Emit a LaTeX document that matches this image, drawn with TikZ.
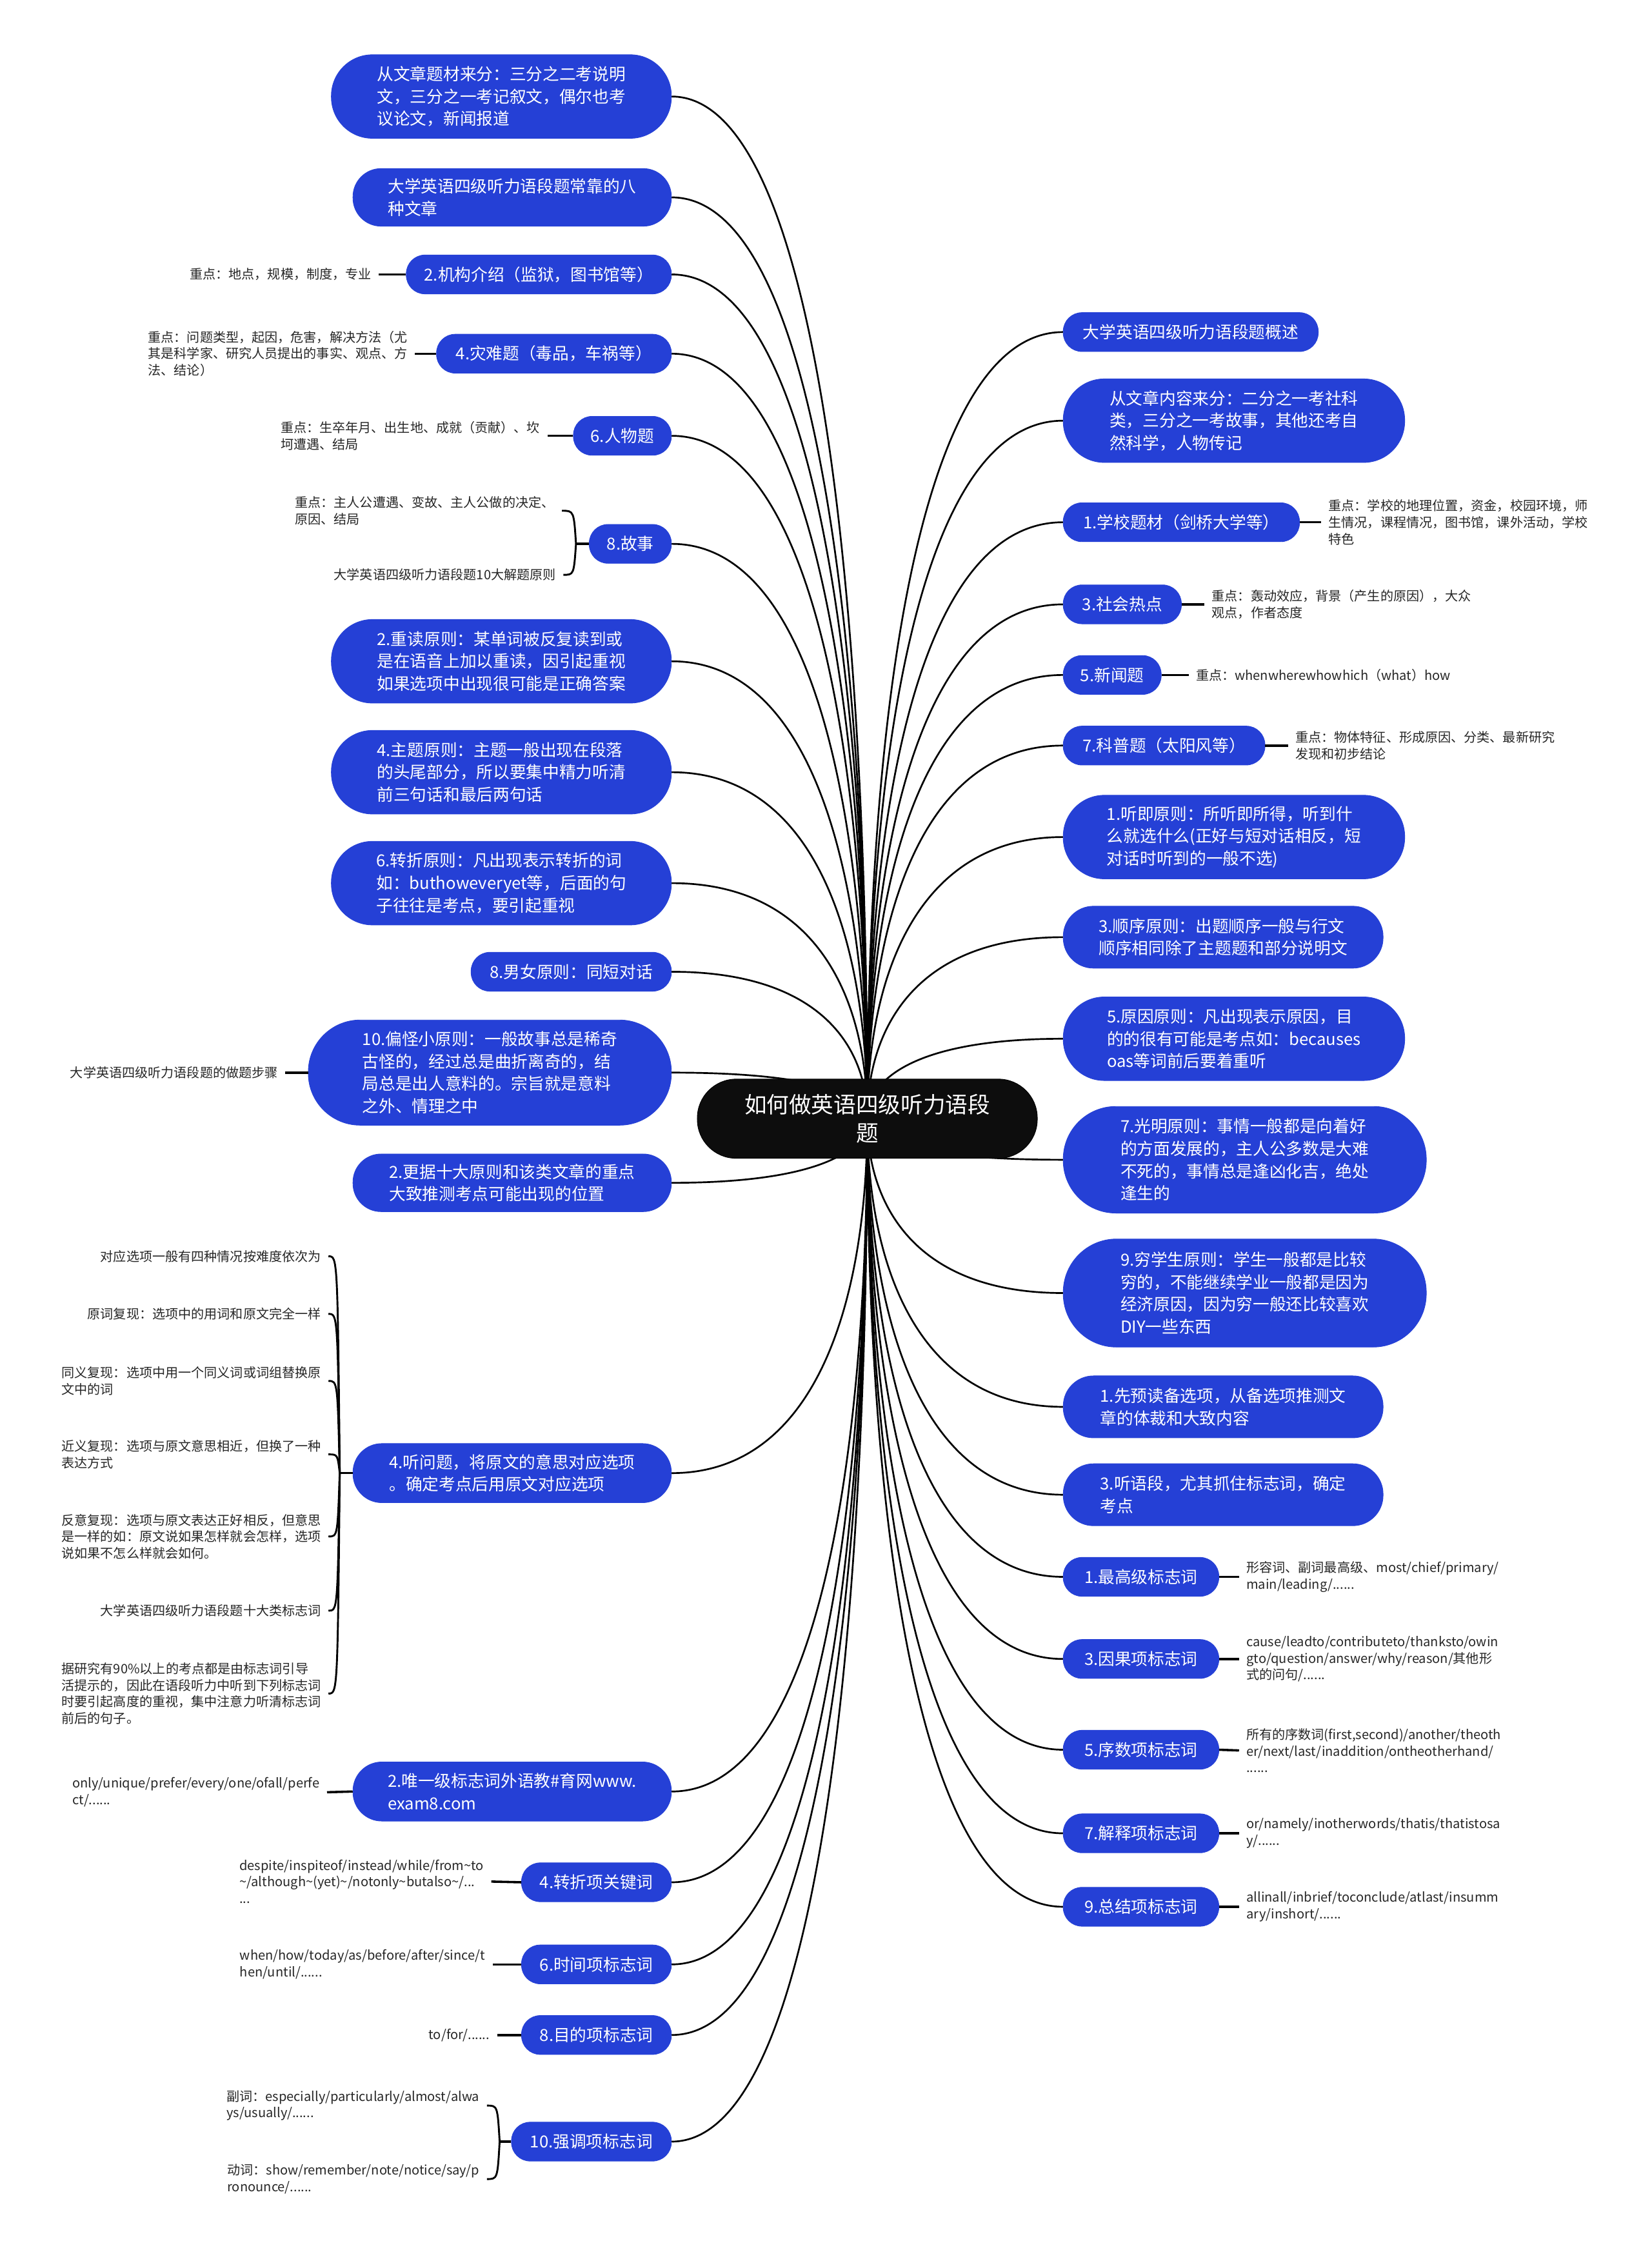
\documentclass[tikz,border=0pt]{standalone}
\usepackage{fontspec}
\setmainfont{Noto Sans CJK SC}
\usetikzlibrary{calc}
\newcommand\mytld{\textasciitilde}
\definecolor{nb}{RGB}{37,64,214}
\pgfdeclarelayer{bg}
\pgfsetlayers{bg,main}
\tikzset{
  bn/.style={fill=nb, draw=nb, text=white, inner sep=0pt, align=left,
    font=\fontsize{11.5}{15.5}\selectfont},
  rootbox/.style={fill=black!95, draw=black, text=white, inner sep=0pt, align=center,
    minimum width=236pt, minimum height=55pt, rounded corners=27pt,
    font=\fontsize{15.5}{20}\selectfont},
  lf/.style={inner xsep=5pt, inner ysep=1pt, align=left, text=black!85,
    font=\fontsize{9}{11.5}\selectfont},
  lfl/.style={lf, anchor=east},
  lfr/.style={lf, anchor=west},
  conn/.style={line width=1.2pt, to path={let \p1=(\tikztostart), \p2=(\tikztotarget) in
    .. controls (\x1,{0.5*(\y1+\y2)}) and ({\x2+0.75*(\x1-\x2)},\y2) .. (\tikztotarget)}},
  stub/.style={line width=1.6pt},
  brc/.style={line width=1.3pt, to path={let \p1=(\tikztostart), \p2=(\tikztotarget) in
    .. controls ({\x1-1.5pt},\y2) .. (\tikztotarget)}},
}
\begin{document}
\begin{tikzpicture}[x=1pt,y=-1pt]
\useasboundingbox (0,0) rectangle (1146.3,1568);
% root
\node[rootbox] (root) at (602,776.5) {如何做英语四级听力语段\\题};
% left main nodes
\node[bn, minimum width=236pt, minimum height=58pt, rounded corners=28.5pt] (L1) at (348,67) {从文章题材来分：三分之二考说明\\文，三分之一考记叙文，偶尔也考\\议论文，新闻报道};
\node[bn, minimum width=221pt, minimum height=40pt, rounded corners=19.5pt] (L2) at (355.5,137) {大学英语四级听力语段题常靠的八\\种文章};
\node[bn, minimum width=184pt, minimum height=27pt, rounded corners=13pt] (L3) at (374,190.5) {2.机构介绍（监狱，图书馆等）};
\node[bn, minimum width=163pt, minimum height=27pt, rounded corners=13pt] (L4) at (384.5,245.5) {4.灾难题（毒品，车祸等）};
\node[bn, minimum width=68pt, minimum height=27pt, rounded corners=13pt] (L5) at (432,302.5) {6.人物题};
\node[bn, minimum width=57pt, minimum height=27pt, rounded corners=13pt] (L6) at (437.5,377.5) {8.故事};
\node[bn, minimum width=236pt, minimum height=58pt, rounded corners=28.5pt] (L7) at (348,459) {2.重读原则：某单词被反复读到或\\是在语音上加以重读，因引起重视\\如果选项中出现很可能是正确答案};
\node[bn, minimum width=236pt, minimum height=58pt, rounded corners=28.5pt] (L8) at (348,536) {4.主题原则：主题一般出现在段落\\的头尾部分，所以要集中精力听清\\前三句话和最后两句话};
\node[bn, minimum width=236pt, minimum height=58pt, rounded corners=28.5pt] (L9) at (348,613) {6.转折原则：凡出现表示转折的词\\如：buthoweveryet等，后面的句\\子往往是考点，要引起重视};
\node[bn, minimum width=139pt, minimum height=27pt, rounded corners=13pt] (L10) at (396.5,674.5) {8.男女原则：同短对话};
\node[bn, minimum width=252pt, minimum height=73pt, rounded corners=36pt] (L11) at (340,744.5) {10.偏怪小原则：一般故事总是稀奇\\古怪的，经过总是曲折离奇的，结\\局总是出人意料的。宗旨就是意料\\之外、情理之中};
\node[bn, minimum width=221pt, minimum height=40pt, rounded corners=19.5pt] (L12) at (355.5,821) {2.更据十大原则和该类文章的重点\\大致推测考点可能出现的位置};
\node[bn, minimum width=221pt, minimum height=41pt, rounded corners=20pt] (L13) at (355.5,1022.5) {4.听问题，将原文的意思对应选项\\。确定考点后用原文对应选项};
\node[bn, minimum width=221pt, minimum height=41pt, rounded corners=20pt] (L14) at (355.5,1243.5) {2.唯一级标志词外语教\#育网www.\\exam8.com};
\node[bn, minimum width=104pt, minimum height=27pt, rounded corners=13pt] (L15) at (414,1306.5) {4.转折项关键词};
\node[bn, minimum width=104pt, minimum height=27pt, rounded corners=13pt] (L16) at (414,1363.5) {6.时间项标志词};
\node[bn, minimum width=104pt, minimum height=27pt, rounded corners=13pt] (L17) at (414,1412.5) {8.目的项标志词};
\node[bn, minimum width=111pt, minimum height=27pt, rounded corners=13pt] (L18) at (410.5,1486.5) {10.强调项标志词};
% right main nodes
\node[bn, minimum width=177pt, minimum height=27pt, rounded corners=13pt] (R1) at (826.5,230.5) {大学英语四级听力语段题概述};
\node[bn, minimum width=237pt, minimum height=58pt, rounded corners=28.5pt] (R2) at (856.5,292) {从文章内容来分：二分之一考社科\\类，三分之一考故事，其他还考自\\然科学，人物传记};
\node[bn, minimum width=164pt, minimum height=27pt, rounded corners=13pt] (R3) at (820,362.5) {1.学校题材（剑桥大学等）};
\node[bn, minimum width=82pt, minimum height=27pt, rounded corners=13pt] (R4) at (779,419.5) {3.社会热点};
\node[bn, minimum width=68pt, minimum height=27pt, rounded corners=13pt] (R5) at (772,468.5) {5.新闻题};
\node[bn, minimum width=140pt, minimum height=27pt, rounded corners=13pt] (R6) at (808,517.5) {7.科普题（太阳风等）};
\node[bn, minimum width=237pt, minimum height=58pt, rounded corners=28.5pt] (R7) at (856.5,581) {1.听即原则：所听即所得，听到什\\么就选什么(正好与短对话相反，短\\对话时听到的一般不选)};
\node[bn, minimum width=222pt, minimum height=43pt, rounded corners=21pt] (R8) at (849,650.5) {3.顺序原则：出题顺序一般与行文\\顺序相同除了主题题和部分说明文};
\node[bn, minimum width=237pt, minimum height=58pt, rounded corners=28.5pt] (R9) at (856.5,721) {5.原因原则：凡出现表示原因，目\\的的很有可能是考点如：becauses\\oas等词前后要着重听};
\node[bn, minimum width=252pt, minimum height=74pt, rounded corners=36.5pt] (R10) at (864,805) {7.光明原则：事情一般都是向着好\\的方面发展的，主人公多数是大难\\不死的，事情总是逢凶化吉，绝处\\逢生的};
\node[bn, minimum width=252pt, minimum height=75pt, rounded corners=37pt] (R11) at (864,897.5) {9.穷学生原则：学生一般都是比较\\穷的，不能继续学业一般都是因为\\经济原因，因为穷一般还比较喜欢\\DIY一些东西};
\node[bn, minimum width=222pt, minimum height=43pt, rounded corners=21pt] (R12) at (849,976.5) {1.先预读备选项，从备选项推测文\\章的体裁和大致内容};
\node[bn, minimum width=222pt, minimum height=43pt, rounded corners=21pt] (R13) at (849,1037.5) {3.听语段，尤其抓住标志词，确定\\考点};
\node[bn, minimum width=108pt, minimum height=27pt, rounded corners=13pt] (R14) at (792,1094.5) {1.最高级标志词};
\node[bn, minimum width=108pt, minimum height=27pt, rounded corners=13pt] (R15) at (792,1151.5) {3.因果项标志词};
\node[bn, minimum width=108pt, minimum height=27pt, rounded corners=13pt] (R16) at (792,1214.5) {5.序数项标志词};
\node[bn, minimum width=108pt, minimum height=27pt, rounded corners=13pt] (R17) at (792,1272.5) {7.解释项标志词};
\node[bn, minimum width=108pt, minimum height=27pt, rounded corners=13pt] (R18) at (792,1323.5) {9.总结项标志词};
% left leaves
\node[lfl] (LL3) at (263,190.5) {重点：地点，规模，制度，专业};
\node[lfl] (LL4) at (288,245.5) {重点：问题类型，起因，危害，解决方法（尤\\其是科学家、研究人员提出的事实、观点、方\\法、结论）};
\node[lfl] (LL5) at (380,302.5) {重点：生卒年月、出生地、成就（贡献）、坎\\坷遭遇、结局};
\node[lfl] (LL6a) at (390,354.5) {重点：主人公遭遇、变故、主人公做的决定、\\原因、结局};
\node[lfl] (LL6b) at (391,399) {大学英语四级听力语段题10大解题原则};
\node[lfl] (LL11) at (198,744.5) {大学英语四级听力语段题的做题步骤};
\node[lfl] (LL13a) at (228,872) {对应选项一般有四种情况按难度依次为};
\node[lfl] (LL13b) at (228,912) {原词复现：选项中的用词和原文完全一样};
\node[lfl] (LL13c) at (228,958.5) {同义复现：选项中用一个同义词或词组替换原\\文中的词};
\node[lfl] (LL13d) at (228,1009.5) {近义复现：选项与原文意思相近，但换了一种\\表达方式};
\node[lfl] (LL13e) at (228,1066.5) {反意复现：选项与原文表达正好相反，但意思\\是一样的如：原文说如果怎样就会怎样，选项\\说如果不怎么样就会如何。};
\node[lfl] (LL13f) at (228,1118) {大学英语四级听力语段题十大类标志词};
\node[lfl] (LL13g) at (228,1175.5) {据研究有90\%以上的考点都是由标志词引导\\活提示的，因此在语段听力中听到下列标志词\\时要引起高度的重视，集中注意力听清标志词\\前后的句子。};
\node[lfl] (LL14) at (227,1244) {only/unique/prefer/every/one/ofall/perfe\\ct/......};
\node[lfl] (LL15) at (341,1306) {despite/inspiteof/instead/while/from\mytld to\\\mytld/although\mytld(yet)\mytld/notonly\mytld butalso\mytld/...\\...};
\node[lfl] (LL16) at (342,1363.5) {when/how/today/as/before/after/since/t\\hen/until/......};
\node[lfl] (LL17) at (345,1412.5) {to/for/......};
\node[lfl] (LL18a) at (338,1461.5) {副词：especially/particularly/almost/alwa\\ys/usually/......};
\node[lfl] (LL18b) at (338,1512.5) {动词：show/remember/note/notice/say/p\\ronounce/......};
% right leaves
\node[lfr] (RL3) at (917,362.5) {重点：学校的地理位置，资金，校园环境，师\\生情况，课程情况，图书馆，课外活动，学校\\特色};
\node[lfr] (RL4) at (836,419.5) {重点：轰动效应，背景（产生的原因），大众\\观点，作者态度};
\node[lfr] (RL5) at (825,468.5) {重点：whenwherewhowhich（what）how};
\node[lfr] (RL6) at (894,517.5) {重点：物体特征、形成原因、分类、最新研究\\发现和初步结论};
\node[lfr] (RL14) at (860,1094.5) {形容词、副词最高级、most/chief/primary/\\main/leading/......};
\node[lfr] (RL15) at (860,1151.5) {cause/leadto/contributeto/thanksto/owin\\gto/question/answer/why/reason/其他形\\式的问句/......};
\node[lfr] (RL16) at (860,1215) {所有的序数词(first,second)/another/theoth\\er/next/last/inaddition/ontheotherhand/\\......};
\node[lfr] (RL17) at (860,1272.5) {or/namely/inotherwords/thatis/thatistosa\\y/......};
\node[lfr] (RL18) at (860,1323.5) {allinall/inbrief/toconclude/atlast/insumm\\ary/inshort/......};
% junctions
\coordinate (j6) at ([xshift=-9pt]L6.west);
\coordinate (j13) at ([xshift=-9pt]L13.west);
\coordinate (j18) at ([xshift=-8pt]L18.west);
\begin{pgfonlayer}{bg}
\fill[white] (0,0) rectangle (1146.3,1568);
\foreach \k in {L1,L2,L3,L4,L5,L6,L7,L8,L9,L10,L11,L12,L13,L14,L15,L16,L17,L18}
  \draw[conn] (root.center) to (\k.east);
\foreach \k in {R1,R2,R3,R4,R5,R6,R7,R8,R9,R10,R11,R12,R13,R14,R15,R16,R17,R18}
  \draw[conn] (root.center) to (\k.west);
\end{pgfonlayer}
% stubs to leaves
\draw[stub] (L3.west) -- (LL3.east);
\draw[stub] (L4.west) -- (LL4.east);
\draw[stub] (L5.west) -- (LL5.east);
\draw[stub] (L11.west) -- (LL11.east);
\draw[stub] (L14.west) -- (LL14.east);
\draw[stub] (L15.west) -- (LL15.east);
\draw[stub] (L16.west) -- (LL16.east);
\draw[stub] (L17.west) -- (LL17.east);
\draw[stub] (R3.east) -- (RL3.west);
\draw[stub] (R4.east) -- (RL4.west);
\draw[stub] (R5.east) -- (RL5.west);
\draw[stub] (R6.east) -- (RL6.west);
\draw[stub] (R14.east) -- (RL14.west);
\draw[stub] (R15.east) -- (RL15.west);
\draw[stub] (R16.east) -- (RL16.west);
\draw[stub] (R17.east) -- (RL17.west);
\draw[stub] (R18.east) -- (RL18.west);
% braces
\draw[stub] (L6.west) -- (j6);
\draw[brc] (j6) to (LL6a.east);
\draw[brc] (j6) to (LL6b.east);
\draw[stub] (L13.west) -- (j13);
\foreach \k in {LL13a,LL13b,LL13c,LL13d,LL13e,LL13f,LL13g}
  \draw[brc] (j13) to (\k.east);
\draw[stub] (L18.west) -- (j18);
\draw[brc] (j18) to (LL18a.east);
\draw[brc] (j18) to (LL18b.east);
\end{tikzpicture}
\end{document}
